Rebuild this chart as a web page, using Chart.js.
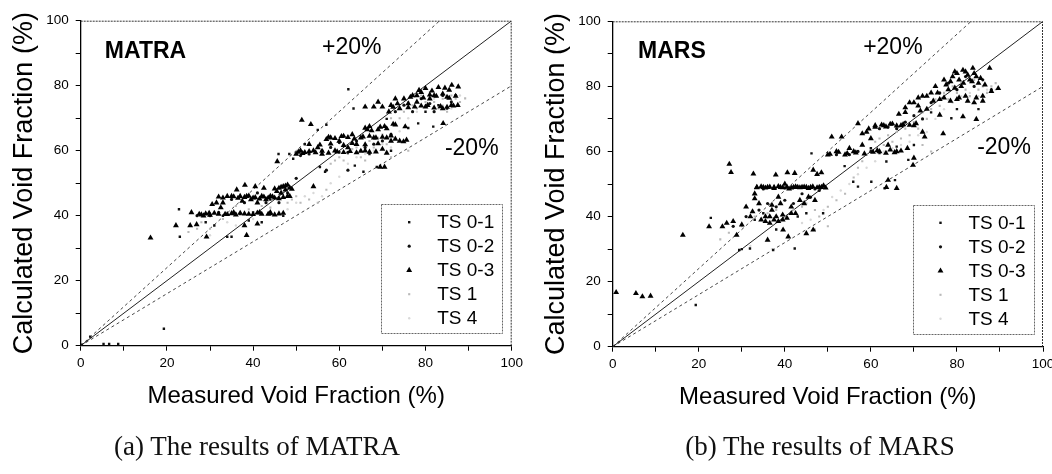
<!DOCTYPE html>
<html><head><meta charset="utf-8">
<script src="https://cdn.jsdelivr.net/npm/chart.js@4.4.1/dist/chart.umd.min.js"></script>
<style>
html,body{margin:0;padding:0;background:#fff;}
#wrap{position:relative;width:1052px;height:474px;overflow:hidden;background:#fff;}
canvas{position:absolute;top:0;}
#c1{left:0}
#c2{left:526px}
.cap{position:absolute;top:431px;line-height:31px;font-family:"Liberation Serif","Times New Roman",serif;font-size:27px;color:#111;white-space:nowrap;transform:translateX(-50%);}
</style></head>
<body><div id="wrap">
<canvas id="c1" width="526" height="474"></canvas>
<canvas id="c2" width="526" height="474"></canvas>
<div class="cap" style="left:257px">(a) The results of MATRA</div>
<div class="cap" style="left:820px">(b) The results of MARS</div>
</div>
<script>
// ---------- data ----------
const seriesLabels = ['TS 0-1', 'TS 0-2', 'TS 0-3', 'TS 1', 'TS 4'];
const majorTicks = [0, 20, 40, 60, 80, 100];
const axisRange = [0, 100];
const lineEqual = [[0, 0], [100, 100]];
const linePlus20 = [[0, 0], [83.3, 100]];
const lineMinus20 = [[0, 0], [100, 80]];

// MATRA
const matraTS01 = [[0.2,0.3],[2.2,2.8],[5.3,0.5],[6.6,0.5],[8.7,0.5],[19.3,5.2],[22.8,42],[23,33.5],[29,38],[31,37],[34,33.5],[35,33.5],[37,40.5],[39,38.5],[42,38],[45.9,59],[48.4,59],[49.3,57.5],[52,62],[55,66.4],[55.5,55],[56.7,53.5],[57,68],[60,59.5],[62.1,78.9],[63.3,73],[63.6,55.4],[65,60],[65.6,53.5],[67,59],[68.7,55],[71,69.8],[72,60],[76,67],[78.3,68.4],[81.8,67.4],[80,72],[83,74],[85,73],[47,40],[44,45],[40,41],[36,40.5],[33,40]];
const matraTS02 = [[27,40],[30,40],[32,41],[35,45],[38,44],[41,47],[43,44],[46,44],[48,47],[51,58.5],[53,59],[56,60],[58,61],[60,62.5],[62,59.5],[64,63],[66,61],[68,62],[70,63],[72,65],[73,72],[75,74],[77,72],[79,76],[81,74.5],[82,72],[84,77],[86,75],[87,77],[62,54],[57,54],[50,51.5]];
const matraTS03 = [[16.2,33.2],[22.1,37],[25.4,37],[25.7,41],[26.9,37.3],[27.5,40.5],[28.5,40],[29.2,33.5],[29.8,40.8],[30.5,43.5],[31.5,44],[32.5,42.5],[33,44],[33.5,40.5],[34,46],[35,46],[35.5,41],[36.2,48],[37,46],[37.5,44.5],[38.1,49.4],[38.5,46],[39,40.5],[39.5,45],[40,45.5],[40.5,49],[41,44],[41.5,41],[42,46],[42.5,48.5],[43,45],[43.5,40.5],[44,46],[45,45.5],[45.5,47.5],[46,48.5],[46.5,47],[47,49],[47.5,48],[48,49.5],[48.5,46],[38,37],[38.5,34],[41,37.5],[44,41],[54,49],[45.6,56.7],[51.3,69.4],[53.4,68.1],[50,59],[51,60],[52,59.5],[53,62],[54,60],[55,61],[56,59],[57,63.5],[58,64],[59,60],[60,63],[61,64.5],[62,61],[63,65],[64,62],[65,64],[66,60],[66.5,66.5],[67,67.5],[68,64],[69,66.5],[70,60.5],[70.5,67.5],[71,64],[72,63],[73,68],[74,63],[74.9,62.8],[75.6,63.3],[75.3,67.4],[66,73.5],[68,73.5],[69,75],[70,73.5],[72,74],[73,76],[74,73],[75,76],[76,74.5],[77,77],[78,75],[79,78],[80,73.5],[81,76],[82,77],[83,79.5],[84,73],[85,76.5],[86,74],[86.1,80.2],[87.6,79.7],[84.1,68.4],[69.5,55],[70.5,55],
[28,40.3],[29,40.6],[30,40.2],[31,40.8],[32,40.5],[34,40.4],[35,40.7],[36,40.3],[37,40.8],[38,40.6],[40,40.4],[41,40.9],[42,40.5],[44,40.7],[45,40.3],[46,40.6],[47,40.8],
[32,45.8],[33,45.5],[35.5,45.9],[36.5,45.4],[38,45.7],[39,46.1],[40.5,45.6],[41.5,45.2],[42.5,45.8],[43.5,45.5],[44.5,45.9],[46,45.3],[47,45.7],[48,46],
[45,48.3],[46.5,48.8],[47.5,49.2],[48.5,48.6],[49,48.2],
[50.5,59.6],[51.5,59.2],[53,59.8],[54.5,59.4],[56,59.9],[57.5,59.3],[59.5,59.7],[61,59.5],[62.5,59.8],[64,59.4],[65,59.9],[67,59.6],[68.5,59.7],[71,59.3],
[57.5,64.2],[59,63.8],[60.5,64.4],[62,64.1],[63.5,63.7],[65.5,64.3],[67,64.5],[68.5,64],[70,64.2],[72,64.6],[73,63.6],
[55.5,61.8],[58,62.1],[61,61.7],[63,62.3],[66,61.9],[69,62.2],
[76,73.3],[77.5,73.5],[79,73.8],[80.5,74],[82,73.2],[83.5,73.6],[85,73.4],[86.5,73.8],[87.5,74],[76.5,76.5],[78,77],[79.5,76.3],[81,77.2],[82.5,76.8],[84,77.5],[85.5,76.2],[87,76.8],[78.5,78.6],[80,79.2],[81.5,78.4],[84.5,79.3],[85.5,78.7],[72.5,73.4],[73.5,74.5],[71.5,72],
[66,67],[67.5,66.2],[69.5,67.3],[71,66.8],[72.5,68.2]];
const matraTS1 = [[25,35],[27,36],[28,38],[30,36],[33,39],[36,43],[39,42],[42,43],[44,42.5],[46,45],[48,44],[49,45],[50,46],[51,44],[53,45],[55,44],[57,48],[58,56],[59,57],[60,58],[61,57],[62,59],[63,60.5],[64,61],[65,58],[66,62],[67,63],[68,61],[69,64],[70,65],[71,62],[72,70],[73,72],[74,70],[75,72],[76,75],[77,74],[78,73],[79,77],[80,75],[81,78],[82,75],[83,73],[84,76],[85,72],[86,77],[87,76],[88,75],[89.2,76.1],[76,60],[72,58],[66,57]];
const matraTS4 = [[48,42],[50,44],[52,46],[54,47],[56,46],[58,50],[60,52],[62,56],[64,58],[66,59],[68,60],[70,62],[72,61],[74,66],[76,70],[78,72],[80,74],[82,76],[84,74],[86,73],[88,77],[40,39],[36,37],[34,38],[30,34]];

// MARS
const marsTS01 = [[19.3,12.8],[22.8,39.6],[29.4,29.7],[30,30],[31.9,30.2],[37.3,29.7],[42.3,30.2],[46.2,59.4],[48.9,41],[53.9,55.5],[55.9,50.7],[57,49.2],[60.1,50.7],[63.2,48.7],[63.6,56.9],[65.6,51.2],[68.7,57.4],[78.7,70.2],[74,72],[80,73],[85,73],[60,61],[62,59.5],[66,61.5],[70,62],[45,41],[43,40],[38,36],[35,41],[33,39]];
const marsTS02 = [[28,37],[31,40],[34,42],[36,44],[38,43],[40,45],[42,44],[44,47],[46,46],[48,48],[35,48.5],[40,48.8],[47,48.5],[52,59],[55,59],[57,60],[60,60],[62,67],[64,67.5],[66,67],[68,69],[70,71],[72,70],[74,75],[76,78],[78,81],[80,79],[82,83],[84,80],[86,82],[88,79]];
const marsTS03 = [[0.8,16.7],[5.4,16.4],[6.9,15.4],[8.8,15.6],[16.3,34.3],[22.4,36.9],[25.5,36.9],[27.1,56.1],[27.5,53.6],[26.5,38],[28,38.5],[28.8,34.3],[30,37.5],[31,43],[32,40],[32.7,53.1],[33,47],[33.5,49],[34,44],[35,49],[35.5,40],[36,49],[36.5,38],[37,42],[37.5,49],[37.9,52.8],[38,40],[38.5,46],[39,49],[39.5,39],[40,50],[40.6,53.5],[41,48.5],[41.5,43],[42,49],[42.3,53.3],[42.5,41],[43,49],[43.5,45],[44,49],[44.5,44],[45,34.8],[45,49],[45.5,46],[46,49],[46.6,35.9],[46.6,54.3],[47,45],[47.5,53],[48,49],[48.5,53.5],[49,49.5],[39.6,35.9],[40.8,33.8],[36,32.8],[50.9,64.5],[53.2,64.5],[50,59],[52,60],[54,59],[55,61],[56,60],[57,68.6],[58,62],[59,66],[60,64],[61,68],[62,60],[63,68],[64,62],[65,68.5],[66,60],[67,68],[68,72],[69,75],[70,68],[71,74],[72,66],[72.5,64.5],[73,77],[74,78],[75,80],[76,76],[76.8,65.5],[77,82],[78,79],[79,83],[79.5,84.5],[80,76],[81,80],[81.4,85],[82,77],[83,82],[83.7,85.6],[84,75],[85,81],[86,77],[87.6,85.6],[89.6,79.4],[76,71.2],[81.4,70.7],[84.5,69.9],[63.6,49],[64,51.2],[66,48.7],[69.8,55.8],[70,58],
[33.5,48.9],[34.5,49.2],[35.5,48.8],[36.5,49.1],[37.5,48.7],[38.5,49.3],[39.5,48.9],[40.5,49.1],[41.5,48.8],[42.5,49.2],[43.5,48.9],[44.5,49.1],[45.5,48.7],[46.5,49.2],[47.5,48.9],[48.5,49],[49.5,48.8],
[34.5,39],[35.5,38.5],[36.5,40],[37.5,39],[38.5,38.5],[39.5,40.5],[40.5,39.5],[41.5,41],[37,43.5],[39,44],[33,45.5],[32.5,41.5],
[50.5,59.2],[52.5,59.8],[54.5,59.4],[56.5,59.6],[58.5,59.3],[60.5,59.8],[61.5,60.3],[63.5,59.5],[64.5,60.5],[65.5,59.7],[67,60.2],[68.5,61],
[62.5,68.2],[63.5,67.6],[64.5,68.4],[66,67.9],[67.5,68.3],[69,68.1],[70.5,68.6],
[77.5,80.5],[78.5,81.5],[79.5,79.5],[80.5,82],[81.5,81],[82.5,83.5],[83.5,81.5],[84.5,83],[80,84],[82,84.5],[84,84],[85.5,82.5],[86.5,80.5],[77,76.5],[78.5,75.5],[80.5,76.5],[82.5,75.5],[84.5,76.5],[86,75.5],[88,78.5],[75.5,78],[74.5,75.5],[73,73],[71.5,72.5],
[58,65.5],[59.5,67],[61,67.5],[66.5,71.5],[68,73.5],[70,75],[71,76.5],[72,77]];
const marsTS1 = [[25,33],[27,35],[30,37],[33,40],[36,41],[38,42],[40,40],[42,42],[44,43],[45,44],[47,42],[48,40],[50,43],[52,45],[54,47],[56,52],[57,55],[58,57],[59,59],[60,61],[61,63],[62,64],[63,62],[64,65],[65,63],[66,66],[67,64],[68,67],[69,65],[70,69],[71,67],[72,72],[73,70],[74,73],[75,76],[76,74],[77,78],[78,76],[79,80],[80,78],[81,81],[82,79],[83,77],[84,82],[85,79],[86,80],[87,78],[88,80],[89,81],[74,60],[72,62],[50,37],[47,36]];
const marsTS4 = [[44,38],[46,39],[49,42],[51,46],[53,48],[55,50],[57,53],[59,55],[61,57],[63,60],[65,61],[67,62],[69,63],[71,65],[73,66],[75,70],[77,73],[79,75],[81,77],[83,78],[85,77],[87,79],[89,79],[37,30],[32,31]];

// ---------- styling ----------
const SANS = '"Liberation Sans", Arial, sans-serif';
const seriesStyles = [
  {pointStyle: 'rect', radius: 1.7, color: '#111', order: 2},
  {pointStyle: 'circle', radius: 1.6, color: '#111', order: 3},
  {pointStyle: 'triangle', radius: 3.4, color: '#000', order: 1},
  {pointStyle: 'rect', radius: 1.5, color: '#b9b9b9', order: 4},
  {pointStyle: 'circle', radius: 1.2, color: '#d9d9d9', order: 5}
];

const overlay = {
  id: 'overlay',
  afterDatasetsDraw(chart, args, opts) {
    const {ctx, chartArea: a, scales: {x, y}} = chart;
    ctx.save();
    ctx.strokeStyle = '#333'; ctx.lineWidth = 1; ctx.setLineDash([2, 1]);
    ctx.beginPath(); ctx.moveTo(a.left, a.top + 0.5); ctx.lineTo(a.right - 0.5, a.top + 0.5); ctx.lineTo(a.right - 0.5, a.bottom); ctx.stroke();
    ctx.setLineDash([]);
    ctx.fillStyle = '#000'; ctx.textBaseline = 'middle'; ctx.textAlign = 'left';
    opts.labels.forEach(l => {
      ctx.font = l.font;
      ctx.fillText(l.text, x.getPixelForValue(l.x), y.getPixelForValue(l.y));
    });
    const bw = 121, bh = 129;
    const bx = a.right - 9.5 - bw, by = a.top + 183.5;
    ctx.fillStyle = '#fff'; ctx.fillRect(bx, by, bw, bh);
    ctx.strokeStyle = '#666'; ctx.lineWidth = 1; ctx.setLineDash([2, 1]);
    ctx.strokeRect(Math.round(bx) + 0.5, Math.round(by) + 0.5, bw, bh);
    ctx.setLineDash([]);
    ctx.font = '19px ' + SANS; ctx.textBaseline = 'middle';
    seriesLabels.forEach((lab, i) => {
      const st = seriesStyles[i];
      const cy = by + 18 + i * 24;
      ctx.fillStyle = st.color; ctx.strokeStyle = st.color;
      Chart.helpers.drawPoint(ctx, {pointStyle: st.pointStyle, radius: st.radius, rotation: 0, borderWidth: 0}, bx + 28, cy);
      ctx.fillStyle = '#000';
      ctx.fillText(lab, bx + 56, cy + 1);
    });
    ctx.restore();
  }
};

function buildChart(id, seriesData, cfg) {
  const datasets = seriesData.map((d, i) => ({
    label: seriesLabels[i],
    data: d.map(p => ({x: p[0], y: p[1]})),
    pointStyle: seriesStyles[i].pointStyle,
    pointRadius: seriesStyles[i].radius,
    pointBackgroundColor: seriesStyles[i].color,
    pointBorderColor: seriesStyles[i].color,
    pointBorderWidth: 0,
    showLine: false,
    order: seriesStyles[i].order
  }));
  const refLine = (pts, dash) => ({
    label: '', data: pts.map(p => ({x: p[0], y: p[1]})), showLine: true, pointRadius: 0,
    borderColor: dash ? '#333' : '#222', borderWidth: dash ? 0.9 : 1, borderDash: dash ? [3, 3] : [], order: 6
  });
  datasets.push(refLine(lineEqual, false), refLine(linePlus20, true), refLine(lineMinus20, true));

  return new Chart(document.getElementById(id), {
    type: 'scatter',
    data: {datasets},
    plugins: [overlay],
    options: {
      responsive: false, animation: false, devicePixelRatio: 1,
      layout: {padding: {left: 0, top: cfg.top, right: cfg.right, bottom: cfg.bottom}},
      plugins: {
        legend: {display: false}, tooltip: {enabled: false},
        overlay: {labels: cfg.labels}
      },
      scales: {
        x: {
          type: 'linear', min: axisRange[0], max: axisRange[1], position: 'bottom',
          ticks: {stepSize: 10, autoSkip: false, maxRotation: 0, padding: 4, color: '#000',
            font: {family: SANS, size: 13.5}, callback: v => majorTicks.includes(v) ? String(v) : ''},
          grid: {display: true, drawOnChartArea: false, drawTicks: true, tickLength: 5, tickColor: '#000', tickWidth: 1},
          border: {display: true, color: '#000', width: 1.3},
          title: {display: true, text: 'Measured Void Fraction (%)', color: '#000',
            font: {family: SANS, size: 24}, padding: {top: 0, bottom: 5.3}},
          afterFit: s => { s.height = 70; s.paddingLeft = 0; s.paddingRight = 0; }
        },
        y: {
          type: 'linear', min: axisRange[0], max: axisRange[1], position: 'left',
          ticks: {stepSize: 10, autoSkip: false, padding: 7, color: '#000',
            font: {family: SANS, size: 13.5}, callback: v => majorTicks.includes(v) ? String(v) : ''},
          grid: {display: true, drawOnChartArea: false, drawTicks: true, tickLength: 5, tickColor: '#000', tickWidth: 1},
          border: {display: true, color: '#000', width: 1.3},
          title: {display: true, text: 'Calculated Void Fraction (%)', color: '#000',
            font: {family: SANS, size: 27}, padding: {top: cfg.ytitlePad, bottom: 0}},
          afterFit: s => { s.width = cfg.yw; s.paddingTop = 0; s.paddingBottom = 0; }
        }
      }
    }
  });
}

buildChart('c1', [matraTS01, matraTS02, matraTS03, matraTS1, matraTS4], {
  top: 20.7, right: 14.3, bottom: 58.3, yw: 80.7, ytitlePad: 8.8,
  labels: [
    {text: 'MATRA', x: 5.6, y: 90.4, font: 'bold 23px ' + SANS},
    {text: '+20%', x: 56, y: 91.6, font: '23px ' + SANS},
    {text: '-20%', x: 84.5, y: 60.7, font: '23px ' + SANS}
  ]
});
buildChart('c2', [marsTS01, marsTS02, marsTS03, marsTS1, marsTS4], {
  top: 21.3, right: 9, bottom: 57.3, yw: 86.7, ytitlePad: 14.3,
  labels: [
    {text: 'MARS', x: 5.9, y: 90.6, font: 'bold 23px ' + SANS},
    {text: '+20%', x: 58.2, y: 91.9, font: '23px ' + SANS},
    {text: '-20%', x: 84.7, y: 61.2, font: '23px ' + SANS}
  ]
});
</script>
</body></html>
